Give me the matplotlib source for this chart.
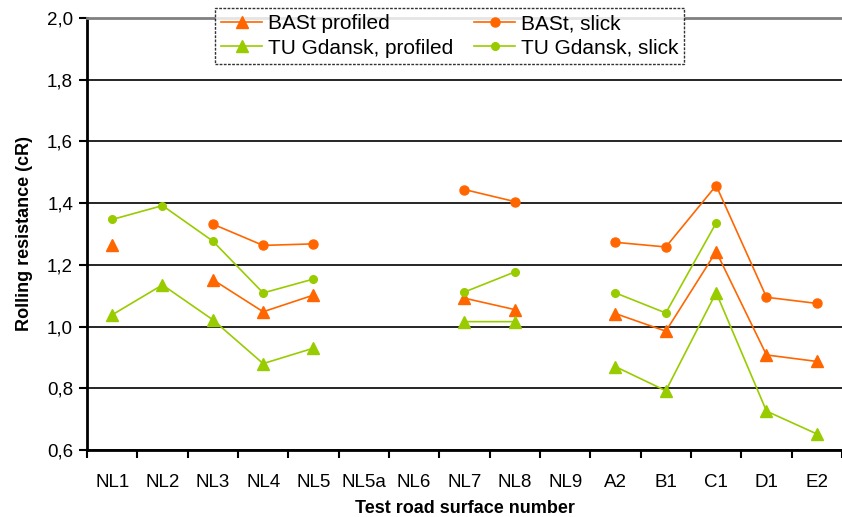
import numpy as np
import matplotlib.pyplot as plt
from matplotlib.ticker import FuncFormatter, FixedLocator

categories = ['NL1', 'NL2', 'NL3', 'NL4', 'NL5', 'NL5a', 'NL6', 'NL7', 'NL8',
              'NL9', 'A2', 'B1', 'C1', 'D1', 'E2']

bast_profiled = [1.265, None, 1.152, 1.048, 1.102, None, None, 1.092, 1.055,
                 None, 1.042, 0.985, 1.243, 0.908, 0.887]
bast_slick = [None, None, 1.332, 1.263, 1.268, None, None, 1.444, 1.405,
              None, 1.273, 1.258, 1.457, 1.095, 1.075]
tu_profiled = [1.038, 1.135, 1.022, 0.880, 0.930, None, None, 1.016, 1.016,
               None, 0.870, 0.792, 1.110, 0.726, 0.652]
tu_slick = [1.347, 1.392, 1.277, 1.109, 1.154, None, None, 1.112, 1.177,
            None, 1.109, 1.044, 1.336, None, None]

orange = '#FF6600'
green = '#99CC00'

plt.rcParams['font.family'] = ['Liberation Sans', 'DejaVu Sans']

fig = plt.figure(figsize=(8.42, 5.17), dpi=100)
ax = fig.add_axes([0.1033, 0.1296, 0.8967, 0.8356])

x = np.arange(len(categories))


def arr(vals):
    return np.array([np.nan if v is None else v for v in vals], dtype=float)


h1, = ax.plot(x, arr(bast_profiled), color=orange, marker='^', markersize=8.5, lw=1.2,
              label='BASt profiled', zorder=4)
h2, = ax.plot(x, arr(bast_slick), color=orange, marker='o', markersize=6.5, lw=1.2,
              label='BASt, slick', zorder=4)
h3, = ax.plot(x, arr(tu_profiled), color=green, marker='^', markersize=8.5, lw=1.2,
              label='TU Gdansk, profiled', zorder=4)
h4, = ax.plot(x, arr(tu_slick), color=green, marker='o', markersize=5.5, lw=1.2,
              label='TU Gdansk, slick', zorder=4)

ax.set_xlim(-0.5, len(categories) - 0.5)
ax.set_ylim(0.6, 2.0)
ax.set_yticks(np.arange(0.6, 2.01, 0.2))
ax.yaxis.set_major_formatter(FuncFormatter(lambda v, p: f'{v:.1f}'.replace('.', ',')))
ax.yaxis.grid(True, color='black', lw=1.2)
ax.set_axisbelow(True)

ax.xaxis.set_major_locator(FixedLocator(np.arange(-0.5, len(categories), 1.0)))
ax.xaxis.set_minor_locator(FixedLocator(x))
ax.set_xticklabels([], minor=False)
ax.set_xticklabels(categories, minor=True)
ax.tick_params(axis='x', which='major', length=6, width=1.5, direction='out')
ax.tick_params(axis='x', which='minor', length=0, pad=17, labelsize=13.5)
ax.tick_params(axis='y', length=6, width=1.5, labelsize=13.5, pad=4)

for side in ['left', 'bottom']:
    ax.spines[side].set_linewidth(2)
ax.spines['right'].set_visible(False)
ax.spines['top'].set_color('#808080')
ax.spines['top'].set_linewidth(2)

ax.set_xlabel('Test road surface number', fontsize=13, fontweight='bold', labelpad=7)
ax.set_ylabel('Rolling resistance (cR)', fontsize=13, fontweight='bold', labelpad=10)

leg = ax.legend([h1, h3, h2, h4],
                ['BASt profiled', 'TU Gdansk, profiled', 'BASt, slick', 'TU Gdansk, slick'],
                loc='upper left', bbox_to_anchor=(0.169, 1.023), ncol=2,
                fontsize=15, frameon=True, fancybox=False, edgecolor='black',
                borderpad=0.3, handlelength=2.0, columnspacing=1.0,
                labelspacing=0.25, handletextpad=0.25, borderaxespad=0)
leg.get_frame().set_linestyle((0, (2, 1)))
leg.get_frame().set_linewidth(1.0)
leg.set_zorder(10)

fig.savefig('out.png', dpi=100)
